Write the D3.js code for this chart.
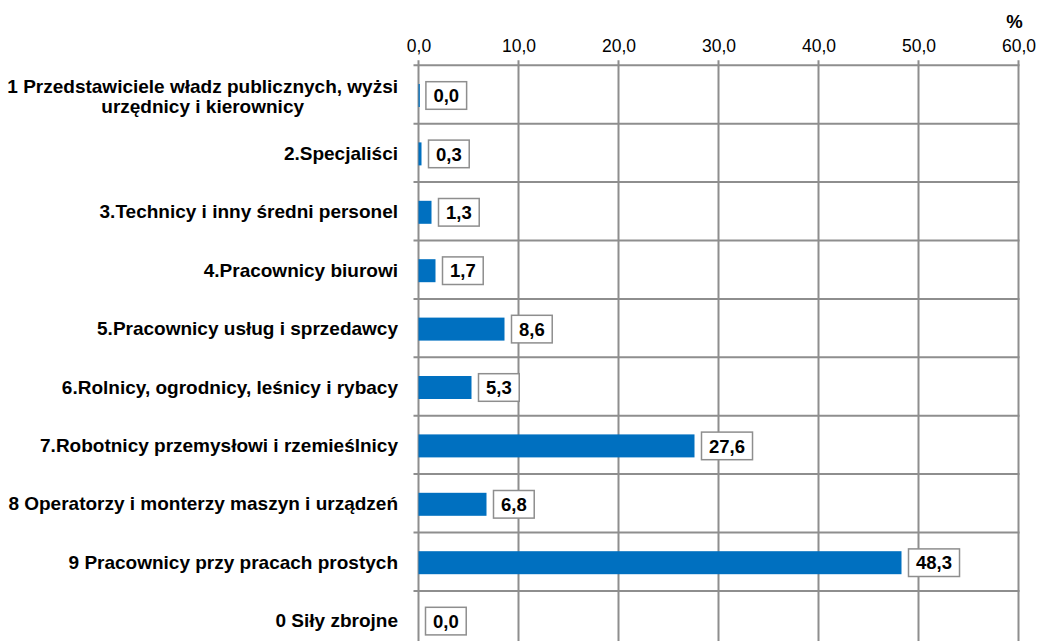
<!DOCTYPE html>
<html>
<head>
<meta charset="utf-8">
<script src="https://cdn.jsdelivr.net/npm/d3@7"></script>
<style>
  body { margin: 0; background: #fff; }
  svg { display: block; font-family: "Liberation Sans", Arial, sans-serif; }
</style>
</head>
<body>
<svg id="chart" width="1038" height="641"></svg>
<script>
// data
var categories = [
  ["1 Przedstawiciele władz publicznych, wyżsi", "urzędnicy i kierownicy"],
  ["2.Specjaliści"],
  ["3.Technicy i inny średni personel"],
  ["4.Pracownicy biurowi"],
  ["5.Pracownicy usług i sprzedawcy"],
  ["6.Rolnicy, ogrodnicy, leśnicy i rybacy"],
  ["7.Robotnicy przemysłowi i rzemieślnicy"],
  ["8 Operatorzy i monterzy maszyn i urządzeń"],
  ["9 Pracownicy przy pracach prostych"],
  ["0 Siły zbrojne"]
];
var values = [0.04, 0.3, 1.3, 1.7, 8.6, 5.3, 27.6, 6.8, 48.3, 0.0];
var ticks = [0, 10, 20, 30, 40, 50, 60];
var unitLabel = "%";

var svg = d3.select("#chart");
var gridColor = "#8e8e8e";
var barColor = "#0070c0";

var fmt = function (v) { return v.toFixed(1).replace(".", ","); };

var x = d3.scaleLinear().domain([0, 60]).range([418.5, 1018.5]);
var y = d3.scaleBand()
  .domain(d3.range(categories.length))
  .range([65.3, 65.3 + 58.4 * categories.length]);

// vertical gridlines
svg.append("g").selectAll("line")
  .data(ticks).join("line")
  .attr("x1", function (d) { return x(d); })
  .attr("x2", function (d) { return x(d); })
  .attr("y1", y.range()[0] - 5)
  .attr("y2", y.range()[1])
  .attr("stroke", gridColor)
  .attr("stroke-width", 2);

// horizontal category separators (with tick stubs on the left)
svg.append("g").selectAll("line")
  .data(d3.range(categories.length + 1)).join("line")
  .attr("x1", x(0) - 5)
  .attr("x2", x(60) + 1)
  .attr("y1", function (i) { return y.range()[0] + i * y.step(); })
  .attr("y2", function (i) { return y.range()[0] + i * y.step(); })
  .attr("stroke", gridColor)
  .attr("stroke-width", 2);

// top axis labels
var axis = d3.axisTop(x).tickValues(ticks).tickSize(0).tickPadding(0).tickFormat(fmt);
var ax = svg.append("g")
  .attr("transform", "translate(0,52)")
  .call(axis);
ax.select(".domain").remove();
ax.selectAll("text")
  .attr("font-family", "Liberation Sans, Arial, sans-serif")
  .attr("font-size", 17.5)
  .attr("fill", "#000")
  .attr("dy", 0);

svg.append("text")
  .attr("x", x(60) - 4)
  .attr("y", 28)
  .attr("text-anchor", "middle")
  .attr("font-weight", "bold")
  .attr("font-size", 18.5)
  .text(unitLabel);

var barH = 23;

// bars
svg.append("g").selectAll("rect")
  .data(values).join("rect")
  .attr("x", x(0))
  .attr("y", function (d, i) { return y(i) + y.bandwidth() / 2 - barH / 2 + 1; })
  .attr("width", function (d) { return d > 0 ? Math.max(1.3, x(d) - x(0)) : 0; })
  .attr("height", barH)
  .attr("fill", barColor);

// value labels in boxes
var lab = svg.append("g").selectAll("g")
  .data(values).join("g")
  .attr("transform", function (d, i) {
    return "translate(" + (x(d) + 7) + "," + (y(i) + y.bandwidth() / 2 + 1) + ")";
  });
lab.append("rect")
  .attr("fill", "#fff")
  .attr("stroke", gridColor)
  .attr("stroke-width", 1.5);
var vtext = lab.append("text")
  .attr("font-weight", "bold")
  .attr("font-size", 18.5)
  .attr("dy", "0.36em")
  .attr("fill", "#000")
  .text(function (d) { return fmt(d); });
vtext.each(function () {
  var w = this.getComputedTextLength();
  d3.select(this).attr("x", 7.5);
  d3.select(this.parentNode).select("rect")
    .attr("x", 0).attr("y", -13.8)
    .attr("width", w + 15).attr("height", 27.6);
});

// category labels: block right aligned, lines centered within block
var cat = svg.append("g").selectAll("text")
  .data(categories).join("text")
  .attr("font-weight", "bold")
  .attr("font-size", 19)
  .attr("fill", "#000")
  .attr("text-anchor", "middle");
cat.each(function (lines, i) {
  var t = d3.select(this);
  var cy = y(i) + y.bandwidth() / 2;
  var lh = 20;
  var spans = t.selectAll("tspan").data(lines).join("tspan")
    .attr("y", function (d, k) { return cy + 7 + (k - (lines.length - 1) / 2) * lh + (lines.length - 1); })
    .text(function (d) { return d; });
  var maxW = 0;
  spans.each(function () { maxW = Math.max(maxW, this.getComputedTextLength()); });
  spans.attr("x", 398 - maxW / 2);
});
</script>
</body>
</html>
